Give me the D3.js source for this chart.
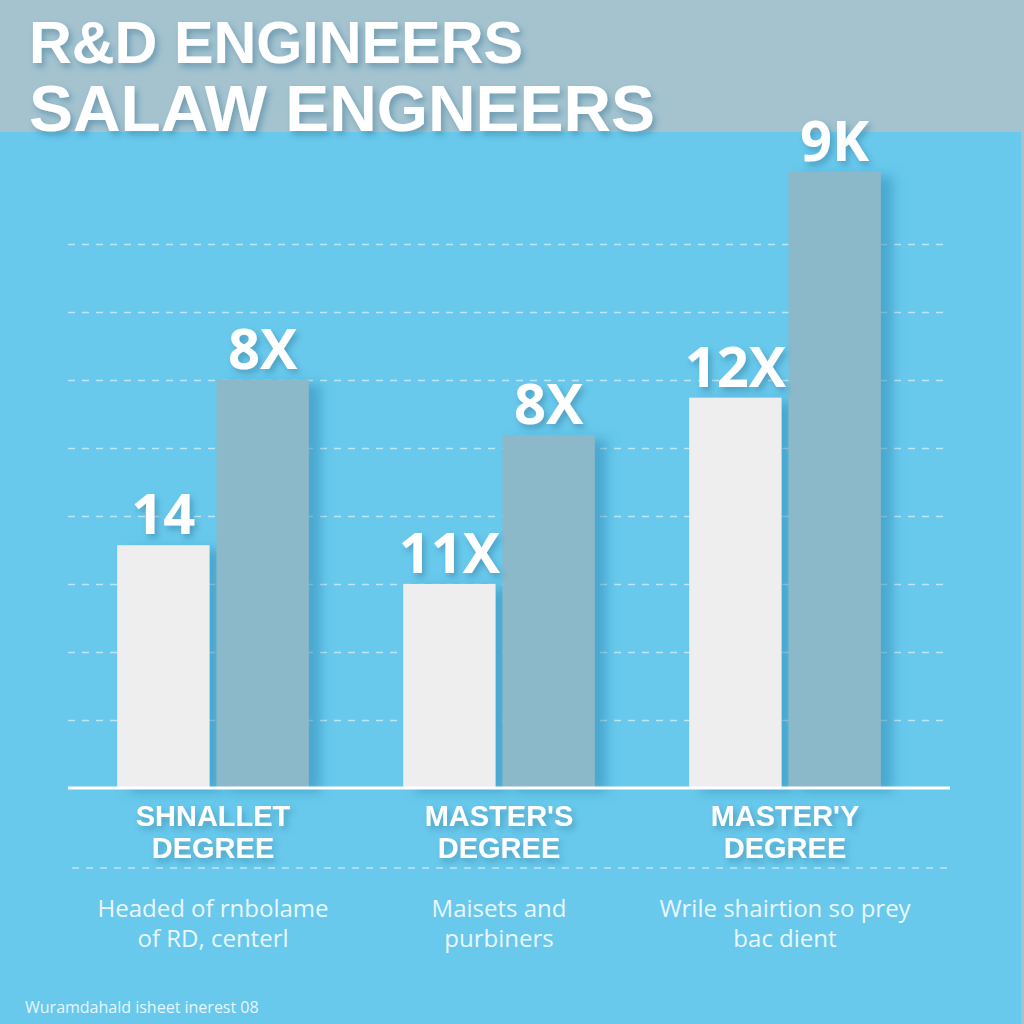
<!DOCTYPE html>
<html>
<head>
<meta charset="utf-8">
<script src="https://cdn.jsdelivr.net/npm/d3@7"></script>
<style>
  html, body { margin: 0; padding: 0; background: #a4c3cf; }
  svg { display: block; }
</style>
</head>
<body>
<div id="chart"></div>
<script>
// chart values (bar heights in grid units)
const categories = ["SHNALLET", "MASTER'S", "MASTER'Y"];
const categorySub = ["DEGREE", "DEGREE", "DEGREE"];
const whiteValues = [3.57, 3.0, 5.74];
const greyValues = [6.0, 5.19, 9.06];
const whiteLabels = ["14", "11X", "12X"];
const greyLabels = ["8X", "8X", "9K"];
const descLine1 = ["Headed of rnbolame", "Maisets and", "Wrile shairtion so prey"];
const descLine2 = ["of RD, centerl", "purbiners", "bac dient"];
const gridTicks = [1, 2, 3, 4, 5, 6, 7, 8];
const titleLines = ["R&D ENGINEERS", "SALAW ENGNEERS"];
const footNote = "Wuramdahald isheet inerest 08";

const W = 1024, H = 1024;
const svg = d3.select("#chart").append("svg")
    .attr("width", W)
    .attr("height", H);

// shadows
let defs = svg.append("defs");
defs.append("filter").attr("id", "barShadow")
    .attr("x", "-20%").attr("y", "-10%").attr("width", "160%").attr("height", "130%")
    .append("feDropShadow")
    .attr("dx", 12).attr("dy", 4).attr("stdDeviation", 6)
    .attr("flood-color", "#2b86b3").attr("flood-opacity", 0.5);
defs.append("filter").attr("id", "textShadow")
    .attr("x", "-20%").attr("y", "-30%").attr("width", "150%").attr("height", "170%")
    .append("feDropShadow")
    .attr("dx", 3).attr("dy", 4).attr("stdDeviation", 3)
    .attr("flood-color", "#2a6f8f").attr("flood-opacity", 0.45);

// backgrounds
svg.append("rect").attr("x", 0).attr("y", 0).attr("width", W).attr("height", H)
    .attr("fill", "#a4c3cf");
svg.append("rect").attr("x", 0).attr("y", 132).attr("width", 1021).attr("height", H - 132)
    .attr("fill", "#68c9ec");

// scales
let x0 = d3.scaleBand()
    .domain(categories)
    .range([70, 928])
    .paddingInner(0.33)
    .paddingOuter(0.165);
let x1 = d3.scaleBand()
    .domain(["white", "grey"])
    .range([0, x0.bandwidth()])
    .paddingInner(0.07);
let yScale = d3.scaleLinear()
    .domain([0, 9])
    .range([788, 788 - 68 * 9]);

// dashed grid lines via axis
let grid = svg.append("g")
    .attr("transform", "translate(68,0)")
    .call(d3.axisLeft(yScale).tickValues(gridTicks).tickSize(-882).tickFormat(""));
grid.select(".domain").remove();
grid.selectAll(".tick line")
    .attr("stroke", "#ffffff")
    .attr("stroke-opacity", 0.55)
    .attr("stroke-width", 1.6)
    .attr("stroke-dasharray", "7,7");

// bars
let groups = svg.append("g").selectAll("g")
    .data(categories)
    .enter().append("g")
    .attr("transform", d => "translate(" + x0(d) + ",0)");

groups.append("rect")
    .attr("x", x1("white"))
    .attr("y", (d, i) => yScale(whiteValues[i]))
    .attr("width", x1.bandwidth())
    .attr("height", (d, i) => yScale(0) - yScale(whiteValues[i]))
    .attr("fill", "#eeeeee")
    .attr("filter", "url(#barShadow)");

groups.append("rect")
    .attr("x", x1("grey"))
    .attr("y", (d, i) => yScale(greyValues[i]))
    .attr("width", x1.bandwidth())
    .attr("height", (d, i) => yScale(0) - yScale(greyValues[i]))
    .attr("fill", "#8bb9ca")
    .attr("filter", "url(#barShadow)");

// value labels
const valueFont = "'Open Sans', 'Noto Sans', sans-serif";
groups.append("text")
    .attr("x", x1("white") + x1.bandwidth() / 2)
    .attr("y", (d, i) => yScale(whiteValues[i]) - 11)
    .attr("text-anchor", "middle")
    .attr("font-family", valueFont)
    .attr("font-weight", 700)
    .attr("font-size", 56)
    .attr("fill", "#ffffff")
    .attr("filter", "url(#textShadow)")
    .text((d, i) => whiteLabels[i]);

groups.append("text")
    .attr("x", x1("grey") + x1.bandwidth() / 2)
    .attr("y", (d, i) => yScale(greyValues[i]) - 11)
    .attr("text-anchor", "middle")
    .attr("font-family", valueFont)
    .attr("font-weight", 700)
    .attr("font-size", 56)
    .attr("fill", "#ffffff")
    .attr("filter", "url(#textShadow)")
    .text((d, i) => greyLabels[i]);

// baseline
svg.append("line")
    .attr("x1", 68).attr("x2", 950)
    .attr("y1", yScale(0)).attr("y2", yScale(0))
    .attr("stroke", "#ffffff").attr("stroke-width", 3);

// category labels (tight two-line block)
const catFont = "'Liberation Sans', Arial, sans-serif";
let catText = groups.append("text")
    .attr("text-anchor", "middle")
    .attr("font-family", catFont)
    .attr("font-weight", 700)
    .attr("font-size", 29)
    .attr("fill", "#ffffff")
    .attr("filter", "url(#textShadow)");
catText.append("tspan")
    .attr("x", x0.bandwidth() / 2)
    .attr("y", 826)
    .text(d => d);
catText.append("tspan")
    .attr("x", x0.bandwidth() / 2)
    .attr("y", 858)
    .text((d, i) => categorySub[i]);

// dashed separator under labels
svg.append("line")
    .attr("x1", 72).attr("x2", 948)
    .attr("y1", 868).attr("y2", 868)
    .attr("stroke", "#ffffff").attr("stroke-opacity", 0.55)
    .attr("stroke-width", 1.6).attr("stroke-dasharray", "7,7");

// descriptions
let descText = groups.append("text")
    .attr("text-anchor", "middle")
    .attr("font-family", "'Open Sans', 'Noto Sans', sans-serif")
    .attr("font-size", 24)
    .attr("fill", "#eaf7fc");
descText.append("tspan")
    .attr("x", x0.bandwidth() / 2)
    .attr("y", 917)
    .text((d, i) => descLine1[i]);
descText.append("tspan")
    .attr("x", x0.bandwidth() / 2)
    .attr("y", 947)
    .text((d, i) => descLine2[i]);

// title
const titleFont = "'Liberation Sans', Arial, sans-serif";
let title = svg.append("g").attr("filter", "url(#textShadow)");
title.append("text")
    .attr("x", 29).attr("y", 63)
    .attr("font-family", titleFont)
    .attr("font-weight", 700)
    .attr("font-size", 60)
    .attr("textLength", 494)
    .attr("lengthAdjust", "spacingAndGlyphs")
    .attr("fill", "#ffffff")
    .text(titleLines[0]);
title.append("text")
    .attr("x", 29).attr("y", 131)
    .attr("font-family", titleFont)
    .attr("font-weight", 700)
    .attr("font-size", 64)
    .attr("textLength", 626)
    .attr("lengthAdjust", "spacingAndGlyphs")
    .attr("fill", "#ffffff")
    .text(titleLines[1]);

// footnote
svg.append("text")
    .attr("x", 25).attr("y", 1013)
    .attr("font-family", "'Open Sans', 'Noto Sans', sans-serif")
    .attr("font-size", 16)
    .attr("fill", "#e6f5fb")
    .text(footNote);
</script>
</body>
</html>
